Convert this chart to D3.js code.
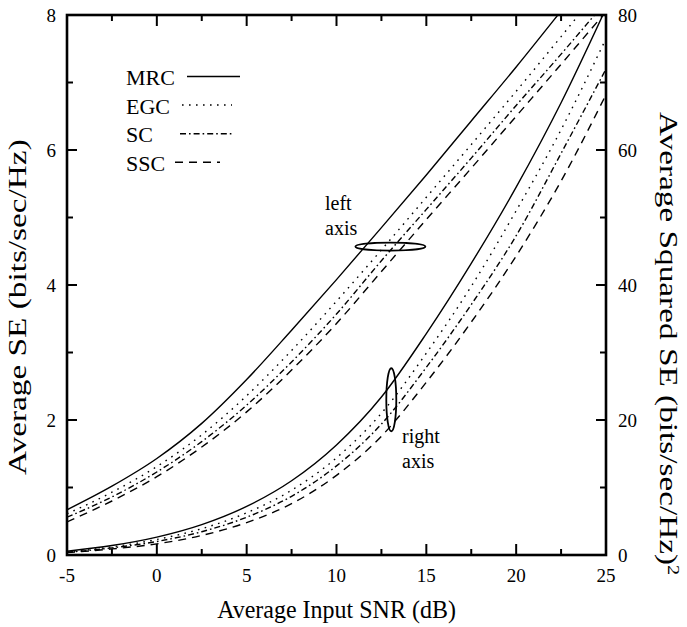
<!DOCTYPE html>
<html><head><meta charset="utf-8">
<script src="https://cdn.jsdelivr.net/npm/d3@7"></script>
<style>body{margin:0;background:#fff} svg{display:block}</style>
</head><body>
<script>
// ---- data ----
const snrDb = [-5, -2.5, 0, 2.5, 5, 7.5, 10, 12.5, 15, 17.5, 20, 22.5, 25];
const schemes = ["MRC", "EGC", "SC", "SSC"];
// Average SE (left axis)
const seMRC = [0.67, 1.02, 1.43, 1.95, 2.60, 3.33, 4.08, 4.85, 5.63, 6.43, 7.23, 8.06, 8.90];
const seEGC = [0.61, 0.93, 1.31, 1.78, 2.36, 3.03, 3.76, 4.52, 5.30, 6.08, 6.87, 7.68, 8.50];
const seSC  = [0.56, 0.86, 1.23, 1.68, 2.22, 2.86, 3.57, 4.36, 5.12, 5.88, 6.66, 7.42, 8.20];
const seSSC = [0.49, 0.80, 1.16, 1.60, 2.12, 2.74, 3.43, 4.20, 4.97, 5.73, 6.50, 7.27, 8.05];
// Average squared SE (right axis)
const sqMRC = [0.55, 1.40, 2.65, 4.50, 7.20, 11.0, 16.3, 23.4, 32.8, 43.2, 54.5, 67.0, 81.0];
const sqEGC = [0.45, 1.20, 2.30, 3.90, 6.25, 9.60, 14.4, 21.0, 29.9, 39.8, 51.0, 63.0, 76.5];
const sqSC  = [0.40, 1.05, 2.00, 3.45, 5.60, 8.70, 13.2, 19.4, 27.8, 37.1, 47.3, 59.5, 72.0];
const sqSSC = [0.35, 0.90, 1.65, 2.90, 4.80, 7.60, 11.8, 17.6, 25.6, 34.5, 44.3, 55.4, 68.2];
// ticks
const xTicksMajor = [-5, 0, 5, 10, 15, 20, 25];
const xTicksMinor = [-2.5, 2.5, 7.5, 12.5, 17.5, 22.5];
const yLeftMajor = [0, 2, 4, 6, 8];
const yLeftMinor = [1, 3, 5, 7];
const yRightMajor = [0, 20, 40, 60, 80];
const yRightMinor = [10, 30, 50, 70];
const dashes = ["none", "1.6,5.4", "6,3,1.6,3", "8,6"];

// ---- layout ----
const W = 687, H = 627;
const L = 67, R = 606, T = 15, B = 555;
const FONT = "'Liberation Serif', 'Times New Roman', serif";

const svg = d3.select("body").append("svg").attr("width", W).attr("height", H)
  .style("font-family", FONT);

const x = d3.scaleLinear().domain([-5, 25]).range([L, R]);
const yL = d3.scaleLinear().domain([0, 8]).range([B, T]);
const yR = d3.scaleLinear().domain([0, 80]).range([B, T]);

svg.append("defs").append("clipPath").attr("id", "clip")
  .append("rect").attr("x", L).attr("y", T).attr("width", R - L).attr("height", B - T);

const plot = svg.append("g").attr("clip-path", "url(#clip)");
const lineL = d3.line().x((d, i) => x(snrDb[i])).y(d => yL(d)).curve(d3.curveMonotoneX);
const lineR = d3.line().x((d, i) => x(snrDb[i])).y(d => yR(d)).curve(d3.curveMonotoneX);

[seMRC, seEGC, seSC, seSSC].forEach((s, k) => {
  plot.append("path").attr("d", lineL(s)).attr("fill", "none").attr("stroke", "#000")
    .attr("stroke-width", 1.4).attr("stroke-dasharray", dashes[k]);
});
[sqMRC, sqEGC, sqSC, sqSSC].forEach((s, k) => {
  plot.append("path").attr("d", lineR(s)).attr("fill", "none").attr("stroke", "#000")
    .attr("stroke-width", 1.4).attr("stroke-dasharray", dashes[k]);
});

// ---- axes (ticks inward) ----
function tk(g, scale, vals, len, orient) {
  vals.forEach(v => {
    const p = scale(v);
    if (orient === "bottom") g.append("line").attr("x1", p).attr("x2", p).attr("y1", B).attr("y2", B - len);
    if (orient === "top") g.append("line").attr("x1", p).attr("x2", p).attr("y1", T).attr("y2", T + len);
    if (orient === "left") g.append("line").attr("x1", L).attr("x2", L + len).attr("y1", p).attr("y2", p);
    if (orient === "right") g.append("line").attr("x1", R).attr("x2", R - len).attr("y1", p).attr("y2", p);
  });
}
const ax = svg.append("g").attr("stroke", "#000").attr("stroke-width", 2);
tk(ax, x, xTicksMajor, 11, "bottom"); tk(ax, x, xTicksMinor, 6, "bottom");
tk(ax, x, xTicksMajor, 11, "top"); tk(ax, x, xTicksMinor, 6, "top");
tk(ax, yL, yLeftMajor, 10, "left"); tk(ax, yL, yLeftMinor, 6, "left");
tk(ax, yR, yRightMajor, 10, "right"); tk(ax, yR, yRightMinor, 6, "right");
svg.append("rect").attr("x", L).attr("y", T).attr("width", R - L).attr("height", B - T)
  .attr("fill", "none").attr("stroke", "#000").attr("stroke-width", 2.6);

const lab = svg.append("g").attr("font-size", 19).attr("fill", "#000");
xTicksMajor.forEach(v => lab.append("text").attr("x", x(v)).attr("y", B + 27)
  .attr("text-anchor", "middle").text(v));
yLeftMajor.forEach(v => lab.append("text").attr("x", L - 11).attr("y", yL(v) + 6.5)
  .attr("text-anchor", "end").text(v));
yRightMajor.forEach(v => lab.append("text").attr("x", R + 12).attr("y", yR(v) + 6.5)
  .attr("text-anchor", "start").text(v));

// ---- titles ----
svg.append("text").attr("transform", `translate(${(L + R) / 2},618) scale(1,1.08)`)
  .attr("text-anchor", "middle").attr("font-size", 24).text("Average Input SNR (dB)");
svg.append("text").attr("transform", "translate(26,475) rotate(-90) scale(1.28,1)")
  .attr("text-anchor", "start").attr("font-size", 26).text("Average SE (bits/sec/Hz)");
const rt = svg.append("text").attr("transform", "translate(660,112) rotate(90) scale(1.28,1)")
  .attr("text-anchor", "start").attr("font-size", 26);
rt.append("tspan").text("Average Squared SE (bits/sec/Hz)");
rt.append("tspan").attr("dy", -8).attr("font-size", 16).text("2");

// ---- legend ----
const leg = svg.append("g");
schemes.forEach((s, k) => {
  const by = 85 + k * 28.6;
  leg.append("text").attr("x", 126).attr("y", by).attr("font-size", 22).text(s);
  const x1 = [187, 182, 180, 175][k], x2 = [240, 232, 233, 220][k];
  leg.append("line").attr("x1", x1).attr("x2", x2).attr("y1", by - 8.5).attr("y2", by - 8.5)
    .attr("stroke", "#000").attr("stroke-width", 1.5).attr("stroke-dasharray", dashes[k]);
});

// ---- annotations ----
svg.append("ellipse").attr("cx", x(13)).attr("cy", yL(4.57)).attr("rx", 35).attr("ry", 4)
  .attr("fill", "none").attr("stroke", "#000").attr("stroke-width", 1.8);
svg.append("ellipse").attr("cx", x(13.05)).attr("cy", yR(23)).attr("rx", 5).attr("ry", 31.5)
  .attr("fill", "none").attr("stroke", "#000").attr("stroke-width", 1.8);
const an = svg.append("g").attr("font-size", 20);
an.append("text").attr("x", 325).attr("y", 210).text("left");
an.append("text").attr("x", 325).attr("y", 235).text("axis");
an.append("text").attr("x", 402).attr("y", 443).text("right");
an.append("text").attr("x", 402).attr("y", 468).text("axis");
</script>
</body></html>
